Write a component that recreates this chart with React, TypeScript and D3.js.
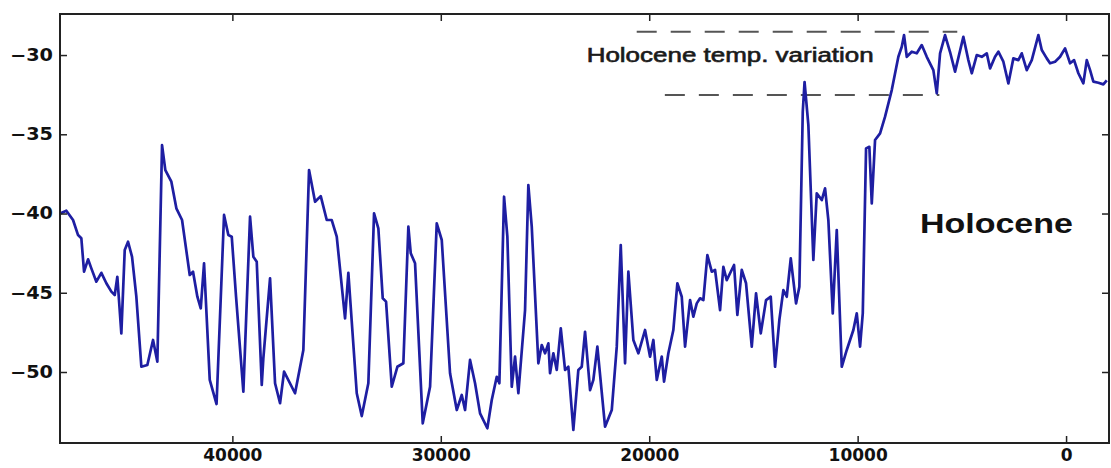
import { useEffect, useRef } from 'react'
import * as d3 from 'd3'

// years before present (reversed x axis) and temperature values
const years = [
  48268, 47966, 47644, 47404, 47246, 47116, 46924, 46766, 46526, 46286, 46046, 45806, 45644, 45519, 45327,
  45164, 45005, 44813, 44607, 44367, 44079, 43806, 43599, 43374, 43216, 42927, 42687, 42414, 42045, 41887,
  41680, 41517, 41359, 41085, 40759, 40399, 40193, 40030, 39823, 39473, 39152, 38993, 38831, 38590, 38514,
  38192, 37952, 37712, 37520, 36993, 36594, 36321, 36033, 35760, 35472, 35232, 34992, 34594, 34435, 34032,
  33792, 33476, 33202, 32996, 32785, 32626, 32353, 32084, 31796, 31556, 31441, 31235, 30866, 30515, 30194,
  29954, 29556, 29234, 28994, 28836, 28596, 28356, 28116, 27766, 27555, 27315, 27190, 26965, 26806, 26595,
  26437, 26278, 25957, 25799, 25636, 25319, 25156, 24998, 24839, 24758, 24599, 24436, 24244, 24038, 23880,
  23640, 23400, 23237, 23078, 22838, 22680, 22488, 22119, 21797, 21557, 21366, 21159, 21001, 20761, 20521,
  20200, 19960, 19801, 19638, 19398, 19288, 19082, 18842, 18650, 18439, 18280, 18040, 17882, 17719, 17561,
  17402, 17210, 16999, 16841, 16601, 16443, 16280, 16121, 15929, 15771, 15560, 15354, 15080, 14874, 14648,
  14394, 14169, 13962, 13756, 13564, 13401, 13209, 12955, 12796, 12633, 12547, 12364, 12125, 11962, 11722,
  11563, 11405, 11194, 11002, 10762, 10522, 10205, 10042, 9884, 9754, 9596, 9438, 9322, 9164, 8924,
  8684, 8363, 8046, 7883, 7773, 7643, 7403, 7163, 6924, 6684, 6367, 6204, 6045, 5806, 5566,
  5326, 4928, 4688, 4525, 4285, 4045, 3805, 3646, 3407, 3248, 3008, 2768, 2529, 2289, 2126,
  1886, 1646, 1329, 1166, 926, 768, 528, 288, 48, -192, -384, -590, -830, -993, -1152,
  -1310, -1550, -1790, -1953,
]
const temps = [
  -40.0, -39.82, -40.41, -41.36, -41.56, -43.67, -42.89, -43.46, -44.3, -43.74, -44.4, -44.93, -45.14, -43.99, -47.56,
  -42.3, -41.78, -42.73, -45.25, -49.67, -49.56, -47.98, -49.35, -35.68, -37.26, -37.99, -39.67, -40.41, -43.88, -43.67,
  -45.25, -45.98, -43.14, -50.5, -52.02, -40.09, -41.36, -41.46, -45.25, -51.24, -40.2, -42.73, -43.04, -50.82, -49.14,
  -44.09, -50.71, -51.97, -49.98, -51.34, -48.61, -37.26, -39.26, -38.9, -40.41, -40.41, -41.46, -46.61, -43.74, -51.34,
  -52.78, -50.71, -39.99, -40.93, -45.35, -45.56, -50.93, -49.67, -49.45, -40.83, -42.51, -43.14, -53.24, -50.93, -40.62,
  -41.67, -50.08, -52.4, -51.45, -52.4, -49.24, -50.71, -52.61, -53.55, -51.77, -50.3, -50.71, -38.94, -41.46, -50.93,
  -49.03, -51.34, -46.09, -38.2, -40.83, -49.45, -48.3, -48.82, -48.19, -50.08, -48.82, -49.87, -47.24, -49.87, -49.67,
  -53.66, -49.87, -49.67, -47.46, -51.14, -50.5, -48.4, -53.45, -52.4, -48.4, -41.99, -49.45, -43.67, -47.98, -48.82,
  -47.35, -49.03, -47.98, -50.5, -49.03, -50.61, -48.82, -47.35, -44.4, -45.25, -48.4, -45.46, -46.51, -45.67, -45.35,
  -45.46, -42.62, -43.67, -43.56, -46.09, -43.36, -44.2, -43.77, -43.25, -46.4, -43.56, -44.4, -48.4, -45.04, -47.56,
  -45.46, -45.25, -49.67, -46.72, -44.83, -45.25, -42.83, -45.67, -44.62, -33.58, -31.7, -34.42, -42.93, -38.73, -39.15,
  -38.41, -40.41, -46.3, -41.04, -49.67, -48.61, -47.35, -46.3, -48.4, -46.3, -35.89, -35.79, -39.36, -35.36, -34.94,
  -33.89, -32.21, -30.11, -29.48, -28.74, -30.11, -29.79, -29.89, -29.37, -30.11, -30.95, -32.42, -29.89, -28.74, -29.81,
  -31.05, -28.85, -30.32, -31.15, -30.0, -30.11, -29.89, -30.84, -30.11, -29.79, -30.42, -31.79, -30.21, -30.32, -29.89,
  -30.95, -30.32, -28.74, -29.68, -30.21, -30.52, -30.42, -30.11, -29.58, -30.52, -30.32, -31.15, -31.79, -30.32, -30.95,
  -31.68, -31.75, -31.85, -31.6,
]

const xTicks = [40000, 30000, 20000, 10000, 0]
const yTicks = [-50, -45, -40, -35, -30]

// Holocene variation band (dashed guides)
const bandValues = [-28.53, -32.52]
const bandStarts = [20600, 19250]
const bandEnds = [5220, 6080]

const annotationText = 'Holocene temp. variation'
const annotationAt = [23000, -30.42]
const periodText = 'Holocene'
const periodAt = [7010, -41.25]

const W = 1111
const H = 468
const plot = { left: 60, right: 1109, top: 14, bottom: 443 }

const App = () => {
  const ref = useRef<SVGSVGElement>(null)

  useEffect(() => {
    if (!ref.current) return
    const svg = d3.select(ref.current)
    svg.selectAll('*').remove()

    const x = d3.scaleLinear().domain([48270, -2060]).range([plot.left, plot.right])
    const y = d3.scaleLinear().domain([-54.48, -27.41]).range([plot.bottom, plot.top])

    svg.append('rect').attr('width', W).attr('height', H).attr('fill', '#fff')

    // dashed guides
    bandValues.forEach((v, i) => {
      svg
        .append('line')
        .attr('x1', x(bandStarts[i]))
        .attr('x2', x(bandEnds[i]))
        .attr('y1', y(v))
        .attr('y2', y(v))
        .attr('stroke', '#555')
        .attr('stroke-width', 2)
        .attr('stroke-dasharray', '20,14')
    })

    // series
    const pts = years.map((yr, i) => [yr, temps[i]] as [number, number])
    const line = d3
      .line<[number, number]>()
      .x((d) => x(d[0]))
      .y((d) => y(d[1]))
    svg
      .append('path')
      .datum(pts)
      .attr('d', line)
      .attr('fill', 'none')
      .attr('stroke', '#1e1ea2')
      .attr('stroke-width', 2.7)
      .attr('stroke-linejoin', 'round')

    const font = '"DejaVu Sans", sans-serif'

    // bottom axis (inward ticks)
    const bottom = svg
      .append('g')
      .attr('transform', `translate(0,${plot.bottom})`)
      .call(d3.axisBottom(x).tickValues(xTicks).tickFormat(d3.format('d')).tickSizeInner(-7).tickSizeOuter(0).tickPadding(6))
    bottom.select('.domain').remove()
    bottom.selectAll('line').attr('stroke', '#222').attr('stroke-width', 1.5)
    bottom
      .selectAll('text')
      .style('font-family', font)
      .style('font-weight', 'bold')
      .style('font-size', '17px')
      .attr('fill', '#111')

    const top = svg
      .append('g')
      .attr('transform', `translate(0,${plot.top})`)
      .call(d3.axisTop(x).tickValues(xTicks).tickFormat(() => '').tickSizeInner(-7).tickSizeOuter(0))
    top.select('.domain').remove()
    top.selectAll('line').attr('stroke', '#222').attr('stroke-width', 1.5)

    const left = svg
      .append('g')
      .attr('transform', `translate(${plot.left},0)`)
      .call(d3.axisLeft(y).tickValues(yTicks).tickSizeInner(-7).tickSizeOuter(0).tickPadding(7))
    left.select('.domain').remove()
    left.selectAll('line').attr('stroke', '#222').attr('stroke-width', 1.5)
    left
      .selectAll('text')
      .attr('textLength', 43)
      .attr('lengthAdjust', 'spacingAndGlyphs')
      .style('font-family', font)
      .style('font-weight', 'bold')
      .style('font-size', '17px')
      .attr('fill', '#111')

    const right = svg
      .append('g')
      .attr('transform', `translate(${plot.right},0)`)
      .call(d3.axisRight(y).tickValues(yTicks).tickFormat(() => '').tickSizeInner(-7).tickSizeOuter(0))
    right.select('.domain').remove()
    right.selectAll('line').attr('stroke', '#222').attr('stroke-width', 1.5)

    // frame
    svg
      .append('rect')
      .attr('x', plot.left)
      .attr('y', plot.top)
      .attr('width', plot.right - plot.left)
      .attr('height', plot.bottom - plot.top)
      .attr('fill', 'none')
      .attr('stroke', '#222')
      .attr('stroke-width', 2)

    // annotations
    svg
      .append('text')
      .attr('x', x(annotationAt[0]))
      .attr('y', y(annotationAt[1]))
      .attr('textLength', 287)
      .attr('lengthAdjust', 'spacingAndGlyphs')
      .style('font-family', '"Liberation Sans", Arial, sans-serif')
      .style('font-size', '19.5px')
      .attr('fill', '#1a1a1a')
      .attr('stroke', '#1a1a1a')
      .attr('stroke-width', 0.6)
      .text(annotationText)

    svg
      .append('text')
      .attr('x', x(periodAt[0]))
      .attr('y', y(periodAt[1]))
      .attr('textLength', 153)
      .attr('lengthAdjust', 'spacingAndGlyphs')
      .style('font-family', '"Liberation Sans", Arial, sans-serif')
      .style('font-weight', 'bold')
      .style('font-size', '28px')
      .attr('fill', '#111')
      .text(periodText)
  }, [])

  return (
    <svg
      ref={ref}
      width={W}
      height={H}
      style={{ position: 'absolute', left: 0, top: 0, display: 'block' }}
    />
  )
}

export default App
